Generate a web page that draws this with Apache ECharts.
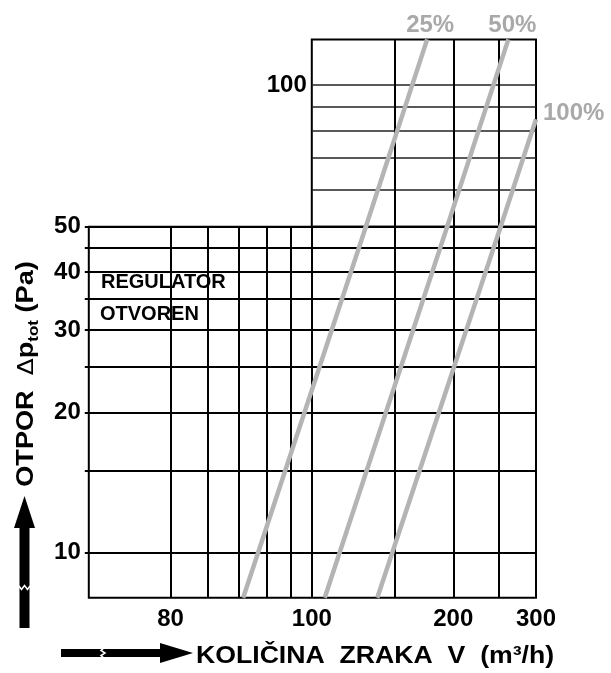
<!DOCTYPE html>
<html>
<head>
<meta charset="utf-8">
<script src="https://cdn.jsdelivr.net/npm/echarts@6/dist/echarts.min.js"></script>
<style>html,body{margin:0;padding:0;background:#fff}#c{width:611px;height:673px}</style>
</head>
<body>
<div id="c"></div>
<script>
// ---- data ----
const xLowerGridValues = [50, 60, 70, 80, 90, 100, 150, 200, 250];
const xUpperGridValues = [150, 200, 250];
const xLabelValues = [50, 100, 200, 300];
const xLabelTexts = ['80', '100', '200', '300'];
const yLowerGridValues = [10, 15, 20, 25, 30, 35, 40, 45, 50];
const yLowerLabelValues = [10, 20, 30, 40, 50];
const yUpperGridValues = [60, 70, 80, 90, 100];
const yUpperLabelValues = [100];
const seriesNames = ['25%', '50%', '100%'];
const flow25 = [71.4, 176], dp25 = [8, 125];
const flow50 = [106.5, 262], dp50 = [8, 125];
const flow100 = [137.8, 300], dp100 = [8, 84.6];

const FONT = '"Liberation Sans", Arial, Helvetica, sans-serif';
const LINE_GRAY = '#b4b4b4';
const LABEL_GRAY = '#a9a9a9';

const curves = [
  {name: seriesNames[0], flow: flow25, dp: dp25},
  {name: seriesNames[1], flow: flow50, dp: dp50},
  {name: seriesNames[2], flow: flow100, dp: dp100}
];

function fmtX(v) {
  for (let i = 0; i < xLabelValues.length; i++) {
    if (Math.abs(v - xLabelValues[i]) < 1e-6 * xLabelValues[i]) return xLabelTexts[i];
  }
  return '';
}
function fmtY(v) { return String(Math.round(v)); }

const tickLabelStyle = {fontSize: 24, fontWeight: 'bold', fontFamily: FONT, color: '#000'};

const series = [];
curves.forEach(c => {
  const pts = c.flow.map((f, i) => [f, c.dp[i]]);
  [0, 1].forEach(g => {
    series.push({
      type: 'line', name: c.name + '_' + g, xAxisIndex: g, yAxisIndex: g,
      data: pts, showSymbol: false, symbol: 'none', clip: true, silent: true,
      lineStyle: {color: LINE_GRAY, width: 4.5, cap: 'butt'}, z: 5
    });
  });
});

const baseGraphics = [
  // x-axis arrow
  {type: 'rect', shape: {x: 61, y: 649, width: 102, height: 8}, style: {fill: '#000'}},
  {type: 'polygon', shape: {points: [[160, 643], [193, 653], [160, 663]]}, style: {fill: '#000'}},
  {type: 'polyline', shape: {points: [[104, 648], [101, 650.5], [105, 653], [101, 655.5], [104, 658]]}, style: {stroke: '#fff', lineWidth: 1.5, fill: null}},
  // y-axis arrow
  {type: 'rect', shape: {x: 19.5, y: 525, width: 10, height: 103}, style: {fill: '#000'}},
  {type: 'polygon', shape: {points: [[24.5, 496], [14, 528], [35, 528]]}, style: {fill: '#000'}},
  {type: 'polyline', shape: {points: [[19, 586], [21.5, 589.5], [24.5, 585.5], [27.5, 589.5], [30, 586]]}, style: {stroke: '#fff', lineWidth: 1.5, fill: null}},
  // axis titles
  {type: 'text', x: 196, y: 656, scaleX: 1.11, style: {text: 'KOLIČINA  ZRAKA  V  (m³/h)', fontSize: 24, fontWeight: 'bold', fontFamily: FONT, fill: '#000', align: 'left', verticalAlign: 'middle'}},
  {type: 'text', x: 26, y: 374, rotation: Math.PI / 2, scaleX: 1.13,
   style: {text: '{a|OTPOR  }{d|Δ}{a|p}{s|tot}{a| (Pa)}', align: 'center', verticalAlign: 'middle', fill: '#000',
     rich: {
       a: {fontSize: 24, fontWeight: 'bold', fontFamily: FONT, fill: '#000', verticalAlign: 'bottom'},
       d: {fontSize: 22, fontWeight: 'normal', fontFamily: '"DejaVu Sans", sans-serif', fill: '#000', verticalAlign: 'bottom'},
       s: {fontSize: 15, fontWeight: 'bold', fontFamily: FONT, fill: '#000', verticalAlign: 'bottom', padding: [0, 0, -3, 0]}
     }}},
  // inner annotation
  {type: 'text', x: 101, y: 282, style: {text: 'REGULATOR', fontSize: 20, fontWeight: 'bold', fontFamily: FONT, fill: '#000', align: 'left', verticalAlign: 'middle'}, z: 10},
  {type: 'text', x: 100, y: 314, style: {text: 'OTVOREN', fontSize: 20, fontWeight: 'bold', fontFamily: FONT, fill: '#000', align: 'left', verticalAlign: 'middle'}, z: 10}
];

const chart = echarts.init(document.getElementById('c'));
const option = {
  animation: false,
  backgroundColor: '#fff',
  grid: [
    {left: 88.8, right: 75, top: 226.8, bottom: 75.2, show: true, borderColor: '#000', borderWidth: 2, containLabel: false},
    {left: 311.8, right: 75, top: 39.4, height: 187.4, show: true, borderColor: '#000', borderWidth: 2, containLabel: false}
  ],
  xAxis: [
    {type: 'log', logBase: 10, gridIndex: 0, min: 33.5, max: 300,
     axisLine: {show: false},
     axisTick: {show: false, customValues: xLowerGridValues},
     splitLine: {show: true, lineStyle: {color: '#000', width: 2}},
     axisLabel: Object.assign({customValues: xLabelValues, formatter: fmtX, margin: 10}, tickLabelStyle)},
    {type: 'log', logBase: 10, gridIndex: 1, min: 100, max: 300,
     axisLine: {show: false},
     axisTick: {show: false, customValues: xUpperGridValues},
     splitLine: {show: true, lineStyle: {color: '#000', width: 2}},
     axisLabel: {show: false}}
  ],
  yAxis: [
    {type: 'log', logBase: 10, gridIndex: 0, min: 8, max: 50,
     axisLine: {show: false},
     axisTick: {show: true, length: 4, customValues: yLowerGridValues, lineStyle: {color: '#000', width: 2}},
     splitLine: {show: true, lineStyle: {color: '#000', width: 2}},
     axisLabel: Object.assign({customValues: yLowerLabelValues, formatter: fmtY, margin: 8}, tickLabelStyle)},
    {type: 'log', logBase: 10, gridIndex: 1, min: 50, max: 125,
     axisLine: {show: false},
     axisTick: {show: false, customValues: yUpperGridValues},
     splitLine: {show: true, lineStyle: {color: '#222', width: 1.6}},
     axisLabel: Object.assign({customValues: yUpperLabelValues, formatter: fmtY, margin: 5}, tickLabelStyle)}
  ],
  series: series,
  graphic: baseGraphics
};
chart.setOption(option);

// percent labels anchored at the end of each curve (through the chart's scales)
const labelOffsets = [[3, -14, 'center'], [4, -14, 'center'], [7, -6, 'left']];
const labelGraphics = curves.map((c, i) => {
  const end = [c.flow[c.flow.length - 1], c.dp[c.dp.length - 1]];
  const p = chart.convertToPixel({gridIndex: 1}, end);
  const o = labelOffsets[i];
  return {type: 'text', x: p[0] + o[0], y: p[1] + o[1],
    style: {text: c.name, fontSize: 24, fontWeight: 'bold', fontFamily: FONT, fill: LABEL_GRAY, align: o[2], verticalAlign: 'middle'}};
});
chart.setOption({graphic: baseGraphics.concat(labelGraphics)});
</script>
</body>
</html>
